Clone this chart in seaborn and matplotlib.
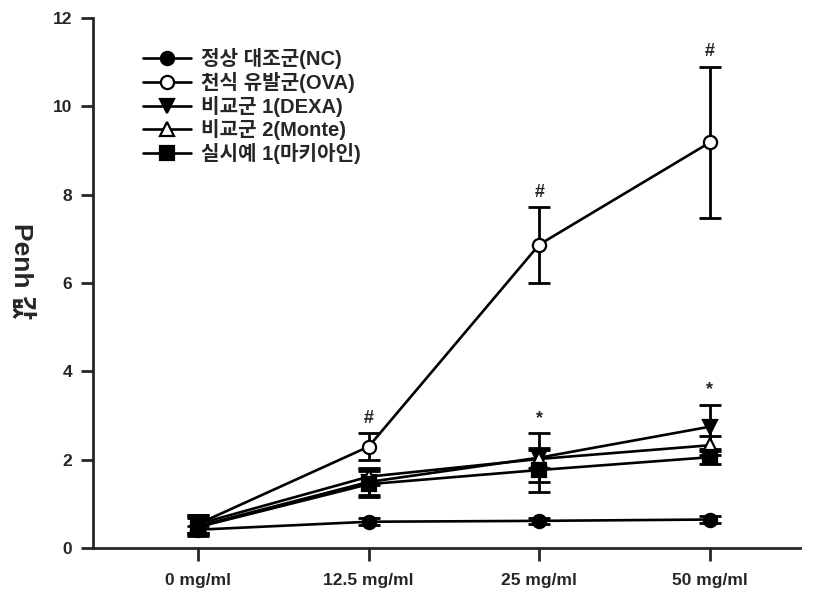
"""Penh value by methacholine dose for the five experimental groups."""
import matplotlib
matplotlib.use("Agg")
import matplotlib.pyplot as plt
import seaborn as sns

doses = ["0 mg/ml", "12.5 mg/ml", "25 mg/ml", "50 mg/ml"]
groups = ["정상 대조군(NC)", "천식 유발군(OVA)", "비교군 1(DEXA)", "비교군 2(Monte)", "실시예 1(마키아인)"]

nc_mean = [0.42, 0.60, 0.62, 0.65]
nc_sd = [0.08, 0.08, 0.06, 0.07]
ova_mean = [0.55, 2.30, 6.87, 9.18]
ova_sd = [0.20, 0.30, 0.86, 1.70]
dexa_mean = [0.50, 1.50, 2.05, 2.75]
dexa_sd = [0.20, 0.30, 0.56, 0.50]
monte_mean = [0.55, 1.62, 2.02, 2.33]
monte_sd = [0.20, 0.20, 0.20, 0.22]
mak_mean = [0.48, 1.45, 1.77, 2.06]
mak_sd = [0.20, 0.30, 0.50, 0.15]

# significance marks: (dose index, y position, symbol)
marks = [(1, 2.75, "#"), (2, 7.85, "#"), (3, 11.05, "#"), (2, 2.75, "*"), (3, 3.4, "*")]

sns.set_style("ticks")
plt.rcParams["font.family"] = ["Liberation Sans", "Noto Sans CJK KR", "DejaVu Sans"]
plt.rcParams["font.weight"] = "bold"

fig = plt.figure(figsize=(8.25, 5.94), dpi=100)
ax = fig.add_axes([0.113, 0.077, 0.857, 0.893])

x = list(range(len(doses)))
series = [
    (groups[0], nc_mean, nc_sd, "o", "black"),
    (groups[1], ova_mean, ova_sd, "o", "white"),
    (groups[2], dexa_mean, dexa_sd, "v", "black"),
    (groups[3], monte_mean, monte_sd, "^", "white"),
    (groups[4], mak_mean, mak_sd, "s", "black"),
]
for name, mean, sd, mk, face in series:
    ax.errorbar(x, mean, yerr=sd, fmt="none", ecolor="black", elinewidth=2, capsize=8, capthick=2, zorder=2)
    sns.lineplot(x=x, y=mean, ax=ax, color="black", linewidth=1.9, marker=mk, markersize=9.5,
                 markerfacecolor=face, markeredgecolor="black", markeredgewidth=1.6, label=name, zorder=3)

for i, y, sym in marks:
    ax.text(i, y, sym, ha="center", va="bottom", fontsize=13, fontweight="bold")

ax.set_xlim(-0.615, 3.53)
ax.set_ylim(0, 12)
ax.set_yticks(range(0, 13, 2))
ax.set_xticks(x)
ax.set_xticklabels(doses)
ax.tick_params(axis="both", labelsize=12.5, width=2, length=9, direction="out")
ax.tick_params(axis="x", pad=9)
ax.tick_params(axis="y", pad=6)
for lbl in ax.get_xticklabels() + ax.get_yticklabels():
    lbl.set_fontweight("bold")
ax.set_xlabel("")
ax.set_ylabel("Penh 값", fontsize=19, fontweight="bold", rotation=270, ha="center", va="center")
ax.yaxis.set_label_coords(-0.102, 0.523)
sns.despine(ax=ax)
for side in ["left", "bottom"]:
    ax.spines[side].set_linewidth(2)

leg = ax.legend(loc="upper left", bbox_to_anchor=(0.0594, 0.9575), frameon=False, fontsize=14.5,
                handlelength=2.35, handletextpad=0.5, labelspacing=0.13, borderaxespad=0)
for t in leg.get_texts():
    t.set_fontweight("bold")

fig.savefig("out.png", dpi=100)
